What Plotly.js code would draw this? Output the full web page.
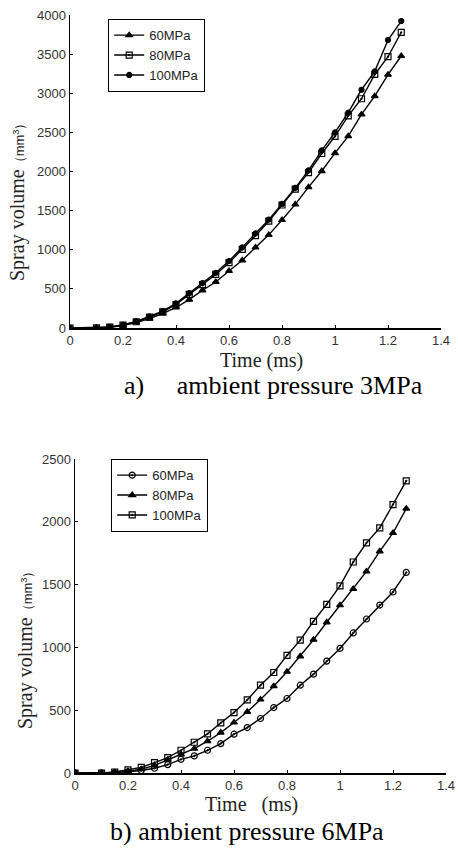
<!DOCTYPE html>
<html>
<head>
<meta charset="utf-8">
<script src="https://cdn.plot.ly/plotly-3.0.1.min.js"></script>
<style>html,body{margin:0;padding:0;background:#fff;}#chart{width:458px;height:849px;}</style>
</head>
<body>
<div id="chart"></div>
<script>
// Time points (ms)
const time = [0, 0.1, 0.15, 0.2, 0.25, 0.3, 0.35, 0.4, 0.45, 0.5, 0.55, 0.6, 0.65, 0.7, 0.75, 0.8, 0.85, 0.9, 0.95, 1.0, 1.05, 1.1, 1.15, 1.2, 1.25];

// a) ambient pressure 3MPa
const a_60MPa  = [0, 0, 8, 30, 70, 120, 185, 262, 362, 482, 588, 729, 865, 1030, 1190, 1380, 1580, 1800, 2006, 2235, 2452, 2730, 2963, 3237, 3476];
const a_80MPa  = [0, 2, 12, 38, 80, 138, 205, 300, 430, 555, 685, 835, 1005, 1180, 1365, 1572, 1775, 1985, 2230, 2450, 2710, 2930, 3240, 3467, 3779];
const a_100MPa = [0, 2, 14, 40, 85, 145, 215, 315, 445, 575, 705, 855, 1030, 1210, 1385, 1585, 1790, 2015, 2270, 2500, 2752, 3045, 3280, 3680, 3923];

// b) ambient pressure 6MPa
const b_60MPa  = [0, 0, 3, 10, 20, 38, 67, 109, 136, 181, 234, 309, 362, 434, 521, 593, 699, 787, 891, 992, 1115, 1226, 1337, 1441, 1597];
const b_80MPa  = [0, 0, 5, 15, 30, 60, 105, 149, 194, 253, 322, 402, 487, 585, 691, 806, 929, 1061, 1200, 1336, 1466, 1605, 1765, 1911, 2105];
const b_100MPa = [0, 0, 8, 25, 45, 82, 122, 181, 245, 311, 399, 481, 582, 699, 800, 936, 1058, 1208, 1342, 1490, 1680, 1832, 1951, 2137, 2326];

const xTicks = [0, 0.2, 0.4, 0.6, 0.8, 1, 1.2, 1.4];
const seriesNames = ['60MPa', '80MPa', '100MPa'];

const W = 458, H = 849;
const px = v => v / W;
const py = v => 1 - v / H;

function tr(x, y, name, sym, size, xa, ya, leg) {
  return {
    x: x, y: y, name: name, type: 'scatter', mode: 'lines+markers',
    xaxis: xa, yaxis: ya, legend: leg,
    line: {color: '#000', width: 1.4},
    marker: {symbol: sym, size: size, color: '#000', line: {color: '#000', width: 1.2}}
  };
}

const data = [
  tr(time, a_60MPa, seriesNames[0], 'triangle-up', 6, 'x', 'y', 'legend'),
  tr(time, a_80MPa, seriesNames[1], 'square-open-dot', 6, 'x', 'y', 'legend'),
  tr(time, a_100MPa, seriesNames[2], 'circle', 5, 'x', 'y', 'legend'),
  tr(time, b_60MPa, seriesNames[0], 'circle-open-dot', 6, 'x2', 'y2', 'legend2'),
  tr(time, b_80MPa, seriesNames[1], 'triangle-up', 6, 'x2', 'y2', 'legend2'),
  tr(time, b_100MPa, seriesNames[2], 'square-open-dot', 6, 'x2', 'y2', 'legend2')
];

const tickFont = {family: 'Liberation Sans, Arial, sans-serif', size: 13, color: '#333'};
function xax(dom, anchor) {
  return {domain: dom, anchor: anchor, range: [0, 1.4], tickvals: xTicks,
    showline: true, linecolor: '#000', linewidth: 1.5, mirror: false,
    ticks: 'inside', ticklen: 3, tickcolor: '#000', showgrid: false, zeroline: false,
    tickfont: tickFont, fixedrange: true};
}
function yax(dom, anchor, max) {
  return {domain: dom, anchor: anchor, range: [0, max], dtick: 500,
    showline: true, linecolor: '#000', linewidth: 1.5, mirror: false,
    ticks: 'inside', ticklen: 3, tickcolor: '#000', showgrid: false, zeroline: false,
    tickfont: tickFont, fixedrange: true};
}

const serif = 'Liberation Serif, Times New Roman, serif';
const ytitle = "Spray volume<span style='font-family:Liberation Sans, Arial, sans-serif;font-size:13px'>（mm<sup>3</sup>）</span>";
const legendBase = {xanchor: 'left', yanchor: 'top', bgcolor: '#fff', bordercolor: '#000', borderwidth: 1.2,
  font: {family: 'Liberation Sans, Arial, sans-serif', size: 13, color: '#222'}, itemwidth: 30, tracegroupgap: 0};

const layout = {
  width: W, height: H,
  margin: {l: 0, r: 0, t: 0, b: 0},
  paper_bgcolor: '#fff', plot_bgcolor: '#fff',
  showlegend: true,
  xaxis: xax([px(70), px(441)], 'y'),
  yaxis: yax([py(328), py(15)], 'x', 4000),
  xaxis2: xax([px(75), px(446)], 'y2'),
  yaxis2: yax([py(773), py(459)], 'x2', 2500),
  legend: Object.assign({x: px(108), y: py(19)}, legendBase),
  legend2: Object.assign({x: px(111), y: py(459)}, legendBase),
  annotations: [
    {text: ytitle, xref: 'paper', yref: 'paper', x: px(17), y: py(199), textangle: -90,
     showarrow: false, xanchor: 'center', yanchor: 'middle', font: {family: serif, size: 20, color: '#222'}},
    {text: ytitle, xref: 'paper', yref: 'paper', x: px(25), y: py(647), textangle: -90,
     showarrow: false, xanchor: 'center', yanchor: 'middle', font: {family: serif, size: 20, color: '#222'}},
    {text: 'Time (ms)', xref: 'paper', yref: 'paper', x: px(261), y: py(360),
     showarrow: false, xanchor: 'center', yanchor: 'middle', font: {family: serif, size: 20, color: '#222'}},
    {text: 'Time&nbsp;&nbsp;&nbsp;(ms)', xref: 'paper', yref: 'paper', x: px(251), y: py(804),
     showarrow: false, xanchor: 'center', yanchor: 'middle', font: {family: serif, size: 20, color: '#222'}},
    {text: 'a)&nbsp;&nbsp;&nbsp;&nbsp; ambient pressure 3MPa', xref: 'paper', yref: 'paper', x: px(122), y: py(385),
     showarrow: false, xanchor: 'left', yanchor: 'middle', font: {family: serif, size: 26, color: '#000'}},
    {text: 'b) ambient pressure 6MPa', xref: 'paper', yref: 'paper', x: px(247), y: py(831),
     showarrow: false, xanchor: 'center', yanchor: 'middle', font: {family: serif, size: 26, color: '#000'}}
  ]
};

Plotly.newPlot('chart', data, layout, {staticPlot: true, displayModeBar: false});
</script>
</body>
</html>
